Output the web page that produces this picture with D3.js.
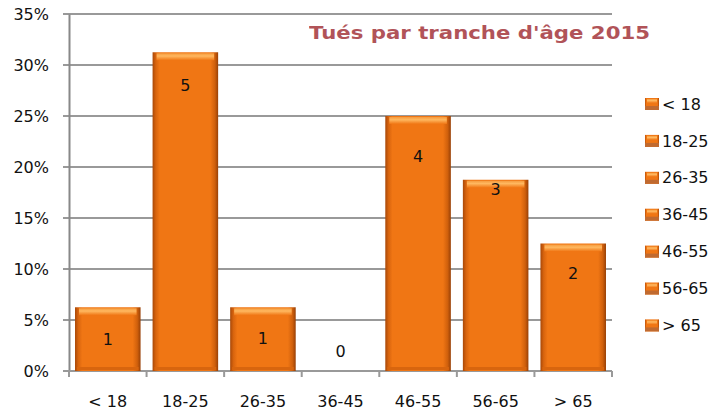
<!DOCTYPE html>
<html>
<head>
<meta charset="utf-8">
<script src="https://cdn.jsdelivr.net/npm/d3@7"></script>
<style>
  body { margin: 0; background: #fff; }
  svg { display: block; font-family: "DejaVu Sans", sans-serif; }
</style>
</head>
<body>
<div id="chart"></div>
<script>
const categories = ['< 18', '18-25', '26-35', '36-45', '46-55', '56-65', '> 65'];
const killed = [1, 5, 1, 0, 4, 3, 2];
const shares = [0.0625, 0.3125, 0.0625, 0, 0.25, 0.1875, 0.125];
// where each count label sits (in share units)
const labelAt = [0.031, 0.28, 0.032, 0.019, 0.21, 0.178, 0.096];
const yTicks = [0, 0.05, 0.10, 0.15, 0.20, 0.25, 0.30, 0.35];
const title = "Tués par tranche d'âge 2015";

const width = 725;
const height = 414;
const plot = { left: 69, right: 612, top: 14, bottom: 371 };
const font = '"DejaVu Sans", sans-serif';

const svg = d3.select('#chart')
  .append('svg')
  .attr('width', width)
  .attr('height', height);

const defs = svg.append('defs');
const side = defs.append('linearGradient').attr('id', 'side');
side.append('stop').attr('offset', '0%').attr('stop-color', '#a84808');
side.append('stop').attr('offset', '5%').attr('stop-color', '#d8640e');
side.append('stop').attr('offset', '11%').attr('stop-color', '#f07614');
side.append('stop').attr('offset', '88%').attr('stop-color', '#f07614');
side.append('stop').attr('offset', '95%').attr('stop-color', '#d0600c');
side.append('stop').attr('offset', '100%').attr('stop-color', '#984006');

const topGrad = defs.append('linearGradient').attr('id', 'topband')
  .attr('x1', 0).attr('y1', 0).attr('x2', 0).attr('y2', 1);
topGrad.append('stop').attr('offset', '0%').attr('stop-color', '#f59a3c');
topGrad.append('stop').attr('offset', '40%').attr('stop-color', '#ffb860');
topGrad.append('stop').attr('offset', '100%').attr('stop-color', '#f07614');

const x = d3.scaleBand()
  .domain(categories)
  .range([plot.left, plot.right])
  .paddingInner(0.155)
  .paddingOuter(0.0775);

const y = d3.scaleLinear()
  .domain([0, 0.35])
  .range([plot.bottom, plot.top]);

// gridlines
svg.append('g')
  .selectAll('line')
  .data(yTicks)
  .join('line')
    .attr('x1', plot.left - 6)
    .attr('x2', plot.right)
    .attr('y1', d => y(d))
    .attr('y2', d => y(d))
    .attr('stroke', '#999')
    .attr('stroke-width', 2);

// y axis
svg.append('g')
  .attr('transform', `translate(${plot.left},0)`)
  .call(d3.axisLeft(y).tickValues(yTicks).tickFormat(d3.format('.0%')).tickSize(0).tickPadding(20))
  .call(g => g.select('.domain').attr('stroke', '#888').attr('stroke-width', 2))
  .call(g => g.selectAll('text').attr('font-size', 16).attr('fill', '#111').attr('font-family', font));

// x axis line and boundary ticks
const step = x.step();
svg.append('line')
  .attr('x1', plot.left - 6).attr('x2', plot.right)
  .attr('y1', plot.bottom).attr('y2', plot.bottom)
  .attr('stroke', '#999').attr('stroke-width', 2);
svg.append('g')
  .selectAll('line')
  .data(d3.range(categories.length + 1))
  .join('line')
    .attr('x1', i => plot.left + i * step)
    .attr('x2', i => plot.left + i * step)
    .attr('y1', plot.bottom)
    .attr('y2', plot.bottom + 6)
    .attr('stroke', '#999')
    .attr('stroke-width', 2);

svg.append('g')
  .attr('transform', `translate(0,${plot.bottom})`)
  .call(d3.axisBottom(x).tickSize(0).tickPadding(25))
  .call(g => g.select('.domain').remove())
  .call(g => g.selectAll('text').attr('font-size', 16).attr('fill', '#111').attr('font-family', font));

// bars
const bars = svg.append('g')
  .selectAll('g')
  .data(categories.map((c, i) => ({ c, v: shares[i], n: killed[i], at: labelAt[i] })))
  .join('g');

bars.filter(d => d.v > 0).append('rect')
  .attr('x', d => x(d.c))
  .attr('y', d => y(d.v))
  .attr('width', x.bandwidth())
  .attr('height', d => y(0) - y(d.v))
  .attr('fill', 'url(#side)');

bars.filter(d => d.v > 0).append('rect')
  .attr('x', d => x(d.c) + 4)
  .attr('y', d => y(d.v) + 1)
  .attr('width', x.bandwidth() - 8)
  .attr('height', 7)
  .attr('fill', 'url(#topband)');

bars.filter(d => d.v > 0).append('rect')
  .attr('x', d => x(d.c) + 2)
  .attr('y', d => y(0) - 4)
  .attr('width', x.bandwidth() - 4)
  .attr('height', 3)
  .attr('fill', '#d8650e');

bars.append('text')
  .attr('x', d => x(d.c) + x.bandwidth() / 2)
  .attr('y', d => y(d.at))
  .attr('dy', '0.35em')
  .attr('text-anchor', 'middle')
  .attr('font-size', 16)
  .attr('fill', '#111')
  .text(d => d.n);

// title
svg.append('text')
  .attr('x', 309)
  .attr('y', 39)
  .attr('textLength', 341)
  .attr('lengthAdjust', 'spacingAndGlyphs')
  .attr('font-family', font)
  .attr('font-weight', 'bold')
  .attr('font-size', 18)
  .attr('fill', '#a4363c')
  .attr('opacity', 0.85)
  .text(title);

// legend
const legend = svg.append('g')
  .selectAll('g')
  .data(categories)
  .join('g')
    .attr('transform', (d, i) => `translate(645,${104 + i * 36.9})`);

legend.append('rect')
  .attr('x', 0).attr('y', -6)
  .attr('width', 14).attr('height', 12)
  .attr('fill', 'url(#side)');
legend.append('rect')
  .attr('x', 2).attr('y', -5)
  .attr('width', 10).attr('height', 4)
  .attr('fill', 'url(#topband)');
legend.append('rect')
  .attr('x', 0).attr('y', 2)
  .attr('width', 14).attr('height', 4)
  .attr('fill', '#c06a30');

legend.append('text')
  .attr('x', 17)
  .attr('dy', '0.35em')
  .attr('font-size', 16)
  .attr('fill', '#111')
  .text(d => d);
</script>
</body>
</html>
